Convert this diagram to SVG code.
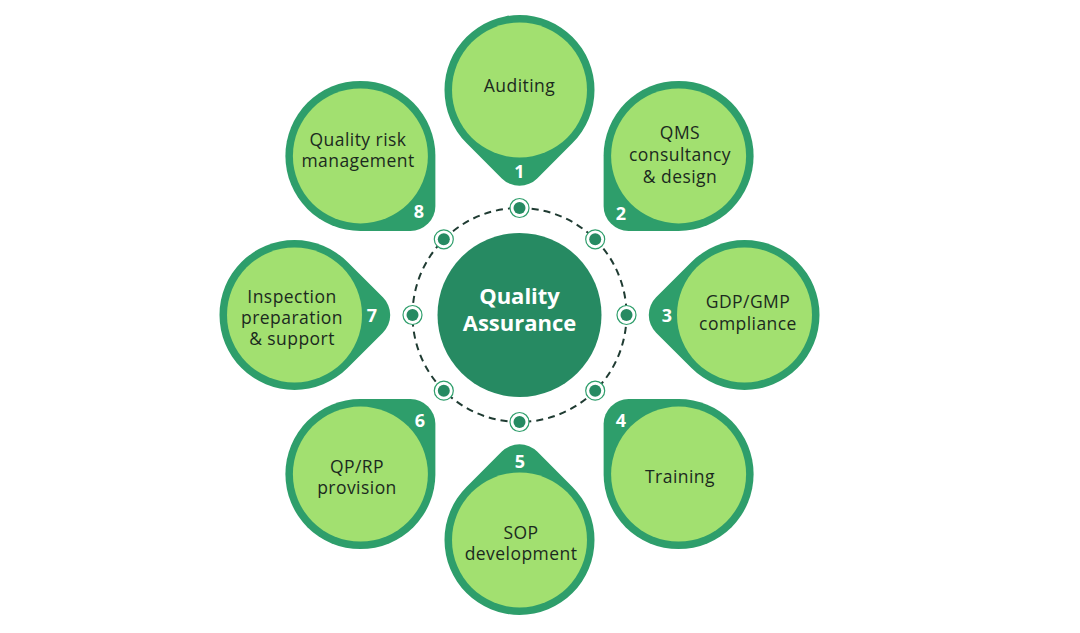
<svg xmlns="http://www.w3.org/2000/svg" width="1080" height="633" viewBox="0 0 1080 633">
<defs>
<style>
.petal{fill:#2e9e6b;}
.inner{fill:#a2e070;}
.lbl{font-family:"Open Sans","Noto Sans","Liberation Sans",sans-serif;font-size:17.5px;fill:#1b2a1e;text-anchor:middle;letter-spacing:0.45px;}
.num{font-family:"Open Sans","Noto Sans","Liberation Sans",sans-serif;font-size:18px;font-weight:700;fill:#ffffff;text-anchor:middle;}
.hubtxt{font-family:"Open Sans","Noto Sans","Liberation Sans",sans-serif;font-size:22px;font-weight:700;fill:#ffffff;text-anchor:middle;}
.dash{fill:none;stroke:#1f3b32;stroke-width:2;stroke-dasharray:7 5;}
.ring{fill:#ffffff;stroke:#2e9e6b;stroke-width:1.2;}
.dot{fill:#268a62;}
</style>
<path id="drop" d="M75,0 L75,50 A25,25 0 0 1 50,75 L0,75 A75,75 0 1 1 75,0 Z"/>
<g id="mk"><circle class="ring" r="9.5"/><circle class="dot" r="6"/></g>
</defs>
<rect width="1080" height="633" fill="#ffffff"/>

<g id="connectors">
<circle class="dash" cx="519.5" cy="315" r="107"/>
<use href="#mk" x="519.5" y="208"/>
<use href="#mk" x="595.2" y="239.3"/>
<use href="#mk" x="626.5" y="315"/>
<use href="#mk" x="595.2" y="390.7"/>
<use href="#mk" x="519.5" y="422"/>
<use href="#mk" x="443.8" y="390.7"/>
<use href="#mk" x="412.5" y="315"/>
<use href="#mk" x="443.8" y="239.3"/>
</g>

<g id="hub">
<circle cx="519.5" cy="315" r="82" fill="#268a62"/>
<text class="hubtxt" x="519.5" y="304">Quality</text>
<text class="hubtxt" x="519.5" y="331">Assurance</text>
</g>

<g id="node1">
<use href="#drop" class="petal" transform="translate(519.5,90) rotate(45)"/>
<circle class="inner" cx="519.5" cy="90" r="67.5"/>
<text class="lbl" x="519.5" y="92">Auditing</text>
<text class="num" x="519.5" y="178">1</text>
</g>

<g id="node2">
<use href="#drop" class="petal" transform="translate(678.6,155.9) rotate(90)"/>
<circle class="inner" cx="678.6" cy="155.9" r="67.5"/>
<text class="lbl" x="680" y="139">QMS</text>
<text class="lbl" x="680" y="161">consultancy</text>
<text class="lbl" x="680" y="183">&amp; design</text>
<text class="num" x="621" y="220">2</text>
</g>

<g id="node3">
<use href="#drop" class="petal" transform="translate(744.5,315) rotate(135)"/>
<circle class="inner" cx="744.5" cy="315" r="67.5"/>
<text class="lbl" x="748" y="308">GDP/GMP</text>
<text class="lbl" x="748" y="330">compliance</text>
<text class="num" x="667" y="322">3</text>
</g>

<g id="node4">
<use href="#drop" class="petal" transform="translate(678.6,474.1) rotate(180)"/>
<circle class="inner" cx="678.6" cy="474.1" r="67.5"/>
<text class="lbl" x="680" y="483">Training</text>
<text class="num" x="621" y="427">4</text>
</g>

<g id="node5">
<use href="#drop" class="petal" transform="translate(519.5,540) rotate(225)"/>
<circle class="inner" cx="519.5" cy="540" r="67.5"/>
<text class="lbl" x="521" y="539">SOP</text>
<text class="lbl" x="521" y="560">development</text>
<text class="num" x="520" y="468">5</text>
</g>

<g id="node6">
<use href="#drop" class="petal" transform="translate(360.4,474.1) rotate(270)"/>
<circle class="inner" cx="360.4" cy="474.1" r="67.5"/>
<text class="lbl" x="357" y="473">QP/RP</text>
<text class="lbl" x="357" y="494">provision</text>
<text class="num" x="420" y="427">6</text>
</g>

<g id="node7">
<use href="#drop" class="petal" transform="translate(294.5,315) rotate(315)"/>
<circle class="inner" cx="294.5" cy="315" r="67.5"/>
<text class="lbl" x="292" y="303">Inspection</text>
<text class="lbl" x="292" y="324">preparation</text>
<text class="lbl" x="292" y="345">&amp; support</text>
<text class="num" x="372" y="322">7</text>
</g>

<g id="node8">
<use href="#drop" class="petal" transform="translate(360.4,155.9)"/>
<circle class="inner" cx="360.4" cy="155.9" r="67.5"/>
<text class="lbl" x="358" y="146">Quality risk</text>
<text class="lbl" x="358" y="167">management</text>
<text class="num" x="419" y="218">8</text>
</g>
</svg>
